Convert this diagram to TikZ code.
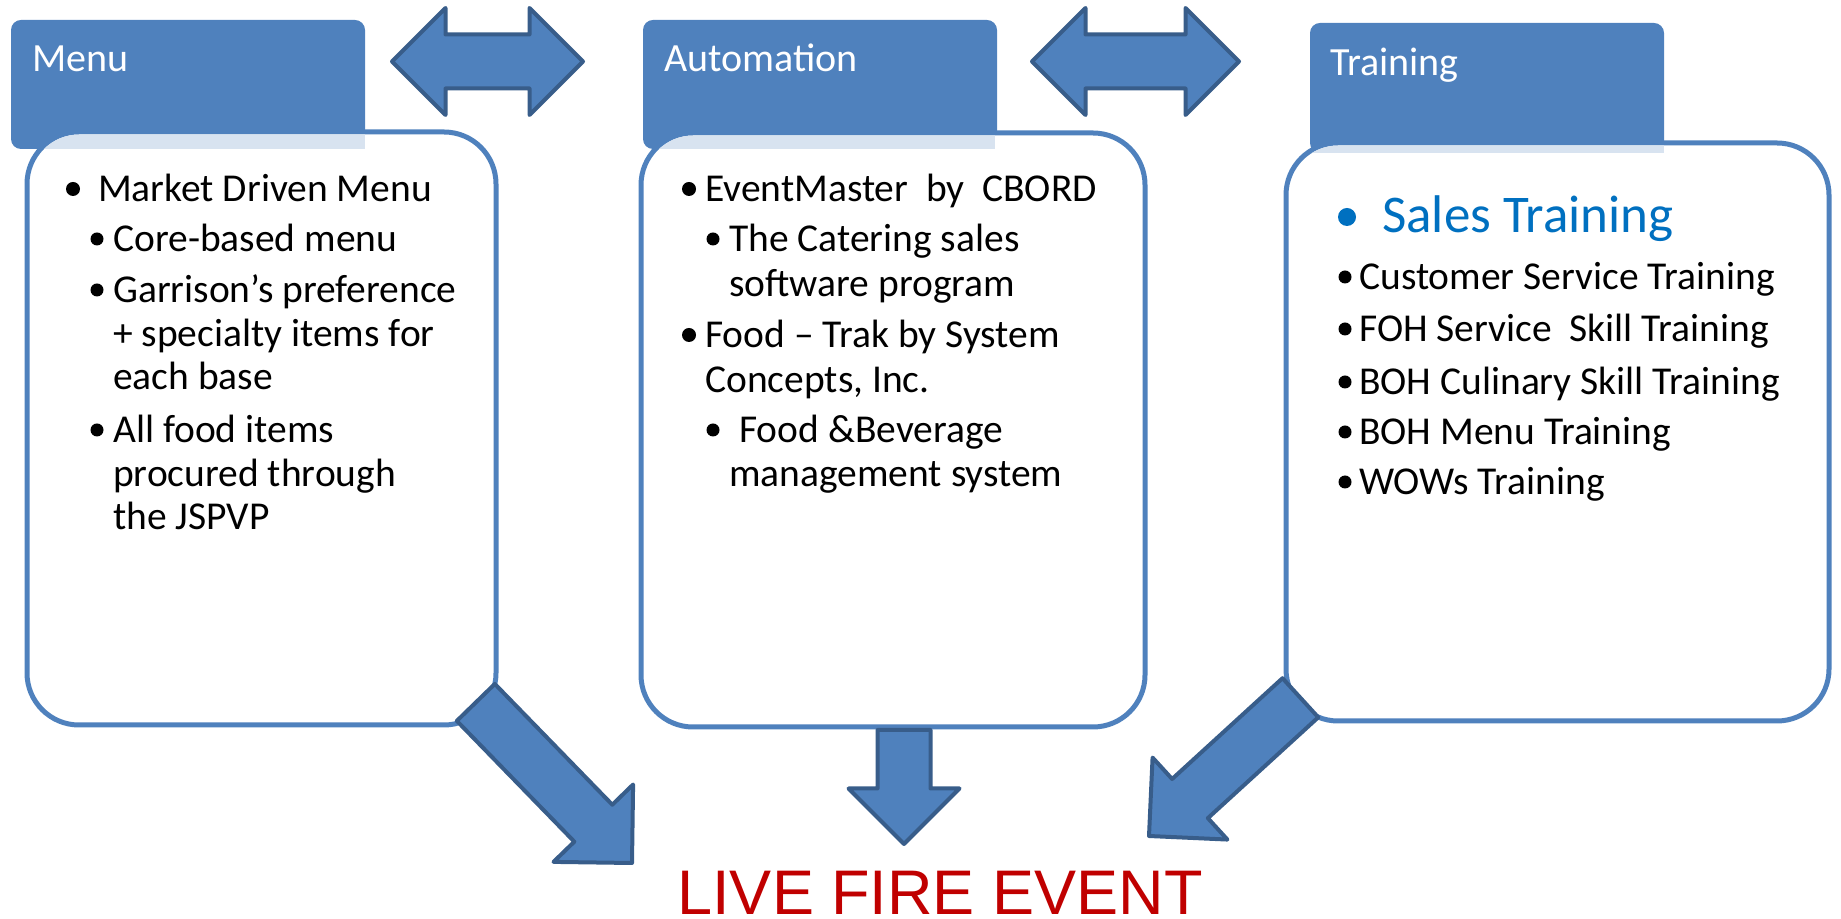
\documentclass[tikz,border=0pt]{standalone}
\usepackage{fontspec}
\setmainfont{Carlito}
\newfontfamily\eventfont{Liberation Sans}
\usetikzlibrary{shapes.arrows}

\definecolor{tabblue}{HTML}{4F81BD}
\definecolor{arrowedge}{HTML}{385D8A}
\definecolor{salesblue}{HTML}{0070C0}
\definecolor{eventred}{HTML}{C00000}

\begin{document}
\begin{tikzpicture}[
    x=1pt, y=1pt,
    tabbox/.style={fill=tabblue, rounded corners=10pt, minimum width=354pt, minimum height=129pt, anchor=north west, inner sep=0pt, outer sep=0pt}, % Blue header tabs
    panelbox/.style={draw=tabblue, line width=5pt, fill=white, rounded corners=52pt, anchor=north west, inner sep=0pt, outer sep=0pt}, % White list panels
    tabshade/.style={fill=tabblue!22}, % Faint strip where a tab runs under its panel
    tabtitle/.style={font=\fontsize{40}{48}\selectfont, text=white, anchor=base west, inner sep=0pt}, % Tab titles
    entry/.style={font=\fontsize{39.5}{44}\selectfont, anchor=base west, inner sep=0pt}, % Bullet text
    bulletdot/.style={fill=black}, % Bullet points
    flowarrow/.style={single arrow, single arrow tip angle=90, draw=arrowedge, fill=tabblue, line width=4pt, line join=round, inner xsep=0pt, inner ysep=24.5pt, outer sep=0pt, single arrow head extend=29pt}, % Arrows down to the event
    linkarrow/.style={double arrow, double arrow tip angle=90, draw=arrowedge, fill=tabblue, line width=4pt, line join=round, inner xsep=0pt, inner ysep=25pt, outer sep=0pt, double arrow head extend=26.5pt} % Arrows between tabs
]

    \useasboundingbox (0,0) rectangle (1841,918);

    % --- Header tabs (panels overlap their lower part) ---
    \node[tabbox] (menuTab) at (11,898) {};
    \node[tabbox] (autoTab) at (643,898) {};
    \node[tabbox, minimum height=130pt] (trainTab) at (1310,895) {};

    % --- White panels ---
    \node[panelbox, minimum width=469pt, minimum height=593pt] (menuBody) at (27,786) {};
    \node[panelbox, minimum width=504pt, minimum height=594pt] (autoBody) at (641,785) {};
    \node[panelbox, minimum width=543pt, minimum height=578pt] (trainBody) at (1286,775) {};

    % Faint strips below the tabs, kept inside the panels
    \begin{scope}
        \clip[rounded corners=49.5pt] (29.5,195.5) rectangle (493.5,783.5);
        \fill[tabshade] (11,769) rectangle (365,784);
    \end{scope}
    \begin{scope}
        \clip[rounded corners=49.5pt] (643.5,193.5) rectangle (1142.5,782.5);
        \fill[tabshade] (643,769) rectangle (995,783);
    \end{scope}
    \begin{scope}
        \clip[rounded corners=49.5pt] (1288.5,199.5) rectangle (1826.5,772.5);
        \fill[tabshade] (1310,765) rectangle (1664,773);
    \end{scope}

    % --- Tab titles ---
    \node[tabtitle] (menuTitle) at (32,846) {Menu};
    \node[tabtitle] (autoTitle) at (664,846) {Automation};
    \node[tabtitle] (trainTitle) at (1330,842) {Training};

    % --- Menu list ---
    \fill[bulletdot] (73,729) circle (7pt);
    \node[entry] (menuA) at (98,716) {Market Driven Menu};
    \fill[bulletdot] (97,679) circle (6.5pt);
    \node[entry] (menuB) at (113,666) {Core-based menu};
    \fill[bulletdot] (97,628) circle (6.5pt);
    \node[entry] (menuC) at (113,615) {Garrison’s preference};
    \node[entry] (menuC2) at (113,571) {+ specialty items for};
    \node[entry] (menuC3) at (113,528) {each base};
    \fill[bulletdot] (97,488) circle (6.5pt);
    \node[entry] (menuD) at (113,475) {All food items};
    \node[entry] (menuD2) at (113,431) {procured through};
    \node[entry] (menuD3) at (113,388) {the JSPVP};

    % --- Automation list ---
    \fill[bulletdot] (689,729) circle (7pt);
    \node[entry] (autoA) at (705,716) {EventMaster\ \ by\ \ CBORD};
    \fill[bulletdot] (713,679) circle (6.5pt);
    \node[entry] (autoB) at (729,666) {The Catering sales};
    \node[entry] (autoB2) at (729,621) {software program};
    \fill[bulletdot] (689,583) circle (7pt);
    \node[entry] (autoC) at (705,570) {Food – Trak by System};
    \node[entry] (autoC2) at (705,525) {Concepts, Inc.};
    \fill[bulletdot] (713,488) circle (6.5pt);
    \node[entry] (autoD) at (739,475) {Food \&Beverage};
    \node[entry] (autoD2) at (729,431) {management system};

    % --- Training list ---
    \fill[salesblue] (1347,701) circle (9pt);
    \node[entry, font=\fontsize{53}{60}\selectfont, text=salesblue] (trainA) at (1382,685) {Sales Training};
    \fill[bulletdot] (1345,641) circle (6.5pt);
    \node[entry] (trainB) at (1359,628) {Customer Service Training};
    \fill[bulletdot] (1345,589) circle (6.5pt);
    \node[entry] (trainC) at (1359,576) {FOH Service\ \ Skill Training};
    \fill[bulletdot] (1345,536) circle (6.5pt);
    \node[entry] (trainD) at (1359,523) {BOH Culinary Skill Training};
    \fill[bulletdot] (1345,486) circle (6.5pt);
    \node[entry] (trainE) at (1359,473) {BOH Menu Training};
    \fill[bulletdot] (1345,436) circle (6.5pt);
    \node[entry] (trainF) at (1359,423) {WOWs Training};

    % --- Event label ---
    \node[font=\eventfont\fontsize{63}{72}\selectfont, text=eventred, anchor=base, inner sep=0pt] (liveFire) at (940,4) {LIVE FIRE EVENT};

    % --- Block arrows ---
    \node[linkarrow, minimum height=191pt] (menuAuto) at (487.5,856.5) {};
    \node[linkarrow, minimum height=207pt] (autoTrain) at (1135.5,856.5) {};
    \node[flowarrow, minimum height=224pt, rotate=-45.8, anchor=tip] (menuDown) at (632,55) {};
    \node[flowarrow, minimum height=114pt, rotate=-90, anchor=tip] (autoDown) at (904,74) {};
    \node[flowarrow, minimum height=205pt, rotate=-137.6, anchor=tip] (trainDown) at (1149,82) {};

\end{tikzpicture}
\end{document}
